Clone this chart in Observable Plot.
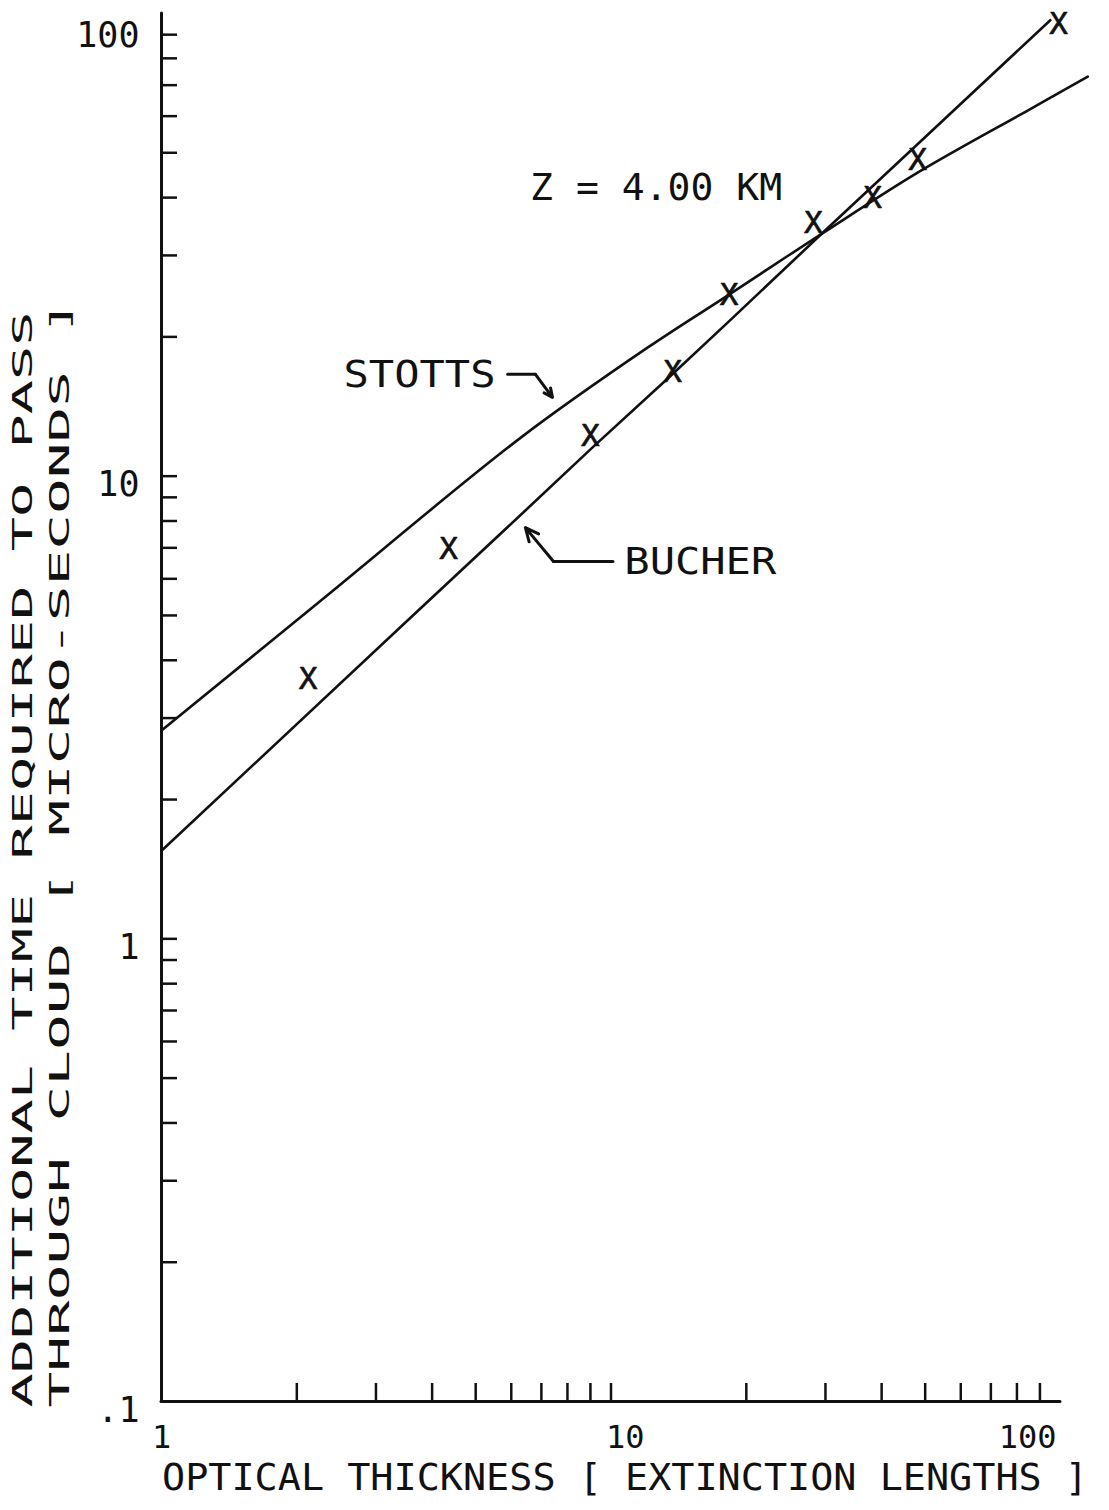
<!DOCTYPE html>
<html>
<head>
<meta charset="utf-8">
<script src="https://cdn.jsdelivr.net/npm/d3@7"></script>
<script src="https://cdn.jsdelivr.net/npm/@observablehq/plot@0.6"></script>
<style>
  html, body { margin: 0; padding: 0; background: #fff; }
  #chart svg { display: block; }
</style>
</head>
<body>
<div id="chart"></div>
<script>
// Stotts model: extra transit time vs optical thickness
const stottsTau  = [1, 2.26, 6.29, 12.1, 18.2, 29.7, 48.1, 84.5, 115];
const stottsTime = [2.82, 5.38, 12.1, 19.0, 24.6, 33.6, 45.3, 61.7, 73.0];

// Bucher model
const bucherTau  = [1, 3.45, 6.45, 9.15, 13.6, 18.2, 29.7, 47.1, 94.9];
const bucherTime = [1.55, 4.78, 8.43, 11.6, 16.5, 21.5, 33.7, 51.2, 96.7];

// Monte Carlo points (plotted as X)
const simTau  = [2.12, 4.35, 9.0, 13.7, 18.3, 28.2, 38.2, 48.1, 99.0];
const simTime = [3.65, 6.97, 12.2, 16.8, 24.6, 35.3, 40.0, 48.1, 95.1];

// Axis ticks and labels
const xTicks = [2, 3, 4, 5, 6, 7, 8, 9, 10, 20, 30, 40, 50, 60, 70, 80, 90];
const yTicks = [0.2, 0.3, 0.4, 0.5, 0.6, 0.7, 0.8, 0.9,
                1, 2, 3, 4, 5, 6, 7, 8, 9,
                10, 20, 30, 40, 50, 60, 70, 80, 90];
const xTickValues = [1, 10, 100];
const xTickLabels = ["1", "10", "100"];
const yTickValues = [0.1, 1, 10, 100];
const yTickLabels = [".1", "1", "10", "100"];

// Titles and annotations
const xTitle = "OPTICAL THICKNESS [ EXTINCTION LENGTHS ]";
const yTitle1 = "ADDITIONAL TIME REQUIRED TO PASS";
const yTitle2 = "THROUGH CLOUD [ MICRO-SECONDS ]";
const noteText = ["Z = 4.00 KM", "STOTTS", "BUCHER"];
const noteTau  = [12.6, 3.75, 15.8];
const noteTime = [42.0, 16.6, 6.52];
const stottsArrowTau  = [5.89, 6.79, 7.41];
const stottsArrowTime = [16.6, 16.6, 14.8];
const bucherArrowTau  = [10.1, 7.45, 6.45];
const bucherArrowTime = [6.54, 6.54, 7.74];

const zip = (xs, ys) => xs.map((x, i) => ({x, y: ys[i]}));
const stotts = zip(stottsTau, stottsTime);
const bucher = zip(bucherTau, bucherTime);
const sims = zip(simTau, simTime);
const notes = noteText.map((t, i) => ({t, x: noteTau[i], y: noteTime[i]}));
const xLab = xTickValues.map((v, i) => ({v, t: xTickLabels[i]}));
const yLab = yTickValues.map((v, i) => ({v, t: yTickLabels[i]}));
const sArrow = zip(stottsArrowTau, stottsArrowTime);
const bArrow = zip(bucherArrowTau, bucherArrowTime);

const ink = "#111";
const font = "DejaVu Sans Mono";

const chart = Plot.plot({
  width: 1109,
  height: 1510,
  marginLeft: 161,
  marginRight: 49,
  marginTop: 13,
  marginBottom: 109,
  style: {fontFamily: font, color: ink, background: "#fff", overflow: "visible"},
  x: {type: "log", domain: [1, 100], axis: null},
  y: {type: "log", domain: [0.1, 100], axis: null},
  marks: [
    // axes drawn as plotter lines with inward ticks
    Plot.ruleX([1], {y1: 0.1, y2: 100, stroke: ink, strokeWidth: 3, strokeLinecap: "round"}),
    Plot.ruleY([0.1], {x1: 1, x2: 100, stroke: ink, strokeWidth: 3, strokeLinecap: "round"}),
    Plot.ruleX(xTicks, {x: d => d, y1: 0.1, y2: 0.1, insetTop: -18, stroke: ink, strokeWidth: 2.5}),
    Plot.ruleY(yTicks, {y: d => d, x1: 1, x2: 1, insetRight: -16, stroke: ink, strokeWidth: 2.5}),

    // tick labels
    Plot.text(xLab.filter(d => d.v === 1), {x: "v", y: 0.1, text: "t", dy: 36, fontSize: 32, textAnchor: "middle", fill: ink}),
    Plot.text(xLab.filter(d => d.v === 10), {x: "v", y: 0.1, text: "t", dy: 36, dx: -5, fontSize: 32, textAnchor: "start", fill: ink}),
    Plot.text(xLab.filter(d => d.v === 100), {x: "v", y: 0.1, text: "t", dy: 36, dx: -4, fontSize: 32, textAnchor: "end", fill: ink}),
    Plot.text(yLab.filter(d => d.v < 100), {x: 1, y: "v", text: "t", dx: -22, dy: 9, fontSize: 35, textAnchor: "end", fill: ink}),
    Plot.text(yLab.filter(d => d.v === 100), {x: 1, y: "v", text: "t", dx: -22, dy: 22, fontSize: 35, textAnchor: "end", fill: ink}),

    // axis titles
    Plot.text([xTitle], {frameAnchor: "bottom", dx: 14, dy: 88, fontSize: 38, fill: ink}),
    Plot.text([yTitle1], {frameAnchor: "left", rotate: -90, textAnchor: "start", dx: -138, dy: 700, fontSize: 27, fill: ink}),
    Plot.text([yTitle2], {frameAnchor: "left", rotate: -90, textAnchor: "start", dx: -101, dy: 700, fontSize: 27, fill: ink}),

    // model curves
    Plot.line(stotts, {x: "x", y: "y", curve: "catmull-rom", stroke: ink, strokeWidth: 2.6}),
    Plot.line(bucher, {x: "x", y: "y", curve: "linear", stroke: ink, strokeWidth: 2.6}),

    // simulated points
    Plot.text(sims, {x: "x", y: "y", text: () => "X", fontSize: 31, fill: ink, stroke: ink, strokeWidth: 0.6}),

    // annotations
    Plot.text(notes, {x: "x", y: "y", text: "t", fontSize: 38, fill: ink}),
    Plot.line(sArrow.slice(0, 2), {x: "x", y: "y", stroke: ink, strokeWidth: 3}),
    Plot.arrow([sArrow], {x1: d => d[1].x, y1: d => d[1].y, x2: d => d[2].x, y2: d => d[2].y,
      stroke: ink, strokeWidth: 3, headLength: 14, headAngle: 50}),
    Plot.line(bArrow.slice(0, 2), {x: "x", y: "y", stroke: ink, strokeWidth: 3}),
    Plot.arrow([bArrow], {x1: d => d[1].x, y1: d => d[1].y, x2: d => d[2].x, y2: d => d[2].y,
      stroke: ink, strokeWidth: 3, headLength: 14, headAngle: 50})
  ]
});

document.getElementById("chart").appendChild(chart);

// The plotter lettering is stretched to fixed run lengths
const runLength = new Map([
  [yTitle1, 1096],
  [yTitle2, 1108],
  [xTitle, 926],
  ["Z = 4.00 KM", 252],
  ["STOTTS", 152],
  ["BUCHER", 152]
]);
d3.select(chart).selectAll("text").each(function () {
  const len = runLength.get(this.textContent);
  if (len) {
    this.setAttribute("textLength", len);
    this.setAttribute("lengthAdjust", "spacingAndGlyphs");
  }
});
</script>
</body>
</html>
